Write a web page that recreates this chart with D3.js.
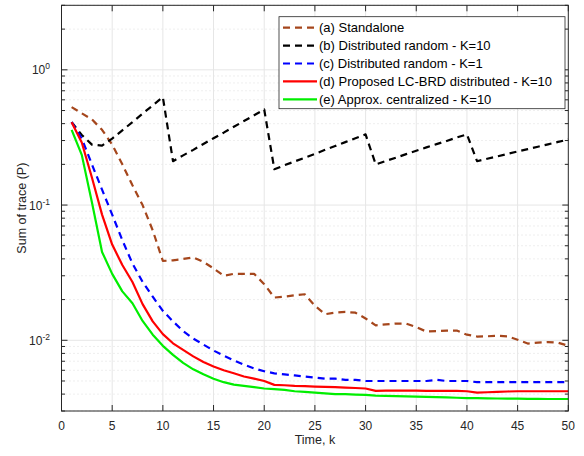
<!DOCTYPE html>
<html>
<head>
<meta charset="utf-8">
<script src="https://cdn.jsdelivr.net/npm/d3@7"></script>
<style>
  body { margin: 0; background: #fff; }
  svg { display: block; font-family: "Liberation Sans", Arial, sans-serif; }
</style>
</head>
<body>
<svg id="chart" width="584" height="456"></svg>
<script>
// time steps k = 1..50
var steps = d3.range(1, 51);

// (a) Standalone
var standalone = [0.53, 0.477, 0.43, 0.36, 0.28, 0.20, 0.14, 0.10, 0.065, 0.0386,
  0.039, 0.040, 0.041, 0.038, 0.034, 0.030, 0.031, 0.031, 0.031, 0.026,
  0.0207, 0.021, 0.0215, 0.0219, 0.018, 0.0156, 0.016, 0.0162, 0.016, 0.0145,
  0.0129, 0.0131, 0.0133, 0.0133, 0.0125, 0.0116, 0.0117, 0.0118, 0.0118, 0.011,
  0.01066, 0.0107, 0.0108, 0.0107, 0.0101, 0.00946, 0.0096, 0.0097, 0.0096, 0.0091];

// (b) Distributed random - K=10
var randomK10 = [0.41, 0.33, 0.28, 0.275, 0.31, 0.357, 0.41, 0.474, 0.546, 0.628,
  0.211, 0.233, 0.256, 0.283, 0.312, 0.343, 0.379, 0.418, 0.461, 0.509,
  0.184, 0.197, 0.210, 0.224, 0.239, 0.256, 0.273, 0.292, 0.312, 0.333,
  0.200, 0.212, 0.224, 0.238, 0.252, 0.267, 0.282, 0.298, 0.316, 0.333,
  0.211, 0.220, 0.229, 0.239, 0.249, 0.259, 0.270, 0.281, 0.293, 0.305];

// (c) Distributed random - K=1
var randomK1 = [0.41, 0.31, 0.20, 0.13, 0.085, 0.055, 0.037, 0.027, 0.021, 0.0165,
  0.0138, 0.0117, 0.0103, 0.0093, 0.0084, 0.0077, 0.0071, 0.0066, 0.0062, 0.0059,
  0.0057, 0.0056, 0.0055, 0.0054, 0.0053, 0.0052, 0.0052, 0.0051, 0.0051, 0.0050,
  0.0050, 0.0050, 0.0050, 0.0050, 0.0050, 0.0050, 0.0051, 0.0050, 0.0050, 0.0050,
  0.0049, 0.0049, 0.0049, 0.0049, 0.0049, 0.0049, 0.0049, 0.0049, 0.0049, 0.0049];

// (d) Proposed LC-BRD distributed - K=10
var proposed = [0.41, 0.29, 0.16, 0.085, 0.051, 0.036, 0.027, 0.0185, 0.0138, 0.0111,
  0.0095, 0.0085, 0.0076, 0.0069, 0.0064, 0.0060, 0.0057, 0.0054, 0.0052, 0.0050,
  0.00468, 0.00465, 0.0046, 0.00458, 0.00455, 0.00452, 0.0045, 0.00447, 0.00444, 0.0044,
  0.00423, 0.00424, 0.00424, 0.00424, 0.00424, 0.00423, 0.00423, 0.00422, 0.00422, 0.0042,
  0.0041, 0.00413, 0.00416, 0.00418, 0.0042, 0.0042, 0.0042, 0.0042, 0.0042, 0.0042];

// (e) Approx. centralized - K=10
var centralized = [0.36, 0.235, 0.105, 0.045, 0.031, 0.023, 0.0188, 0.0139, 0.011, 0.0091,
  0.0078, 0.0068, 0.0061, 0.0056, 0.0052, 0.0049, 0.0047, 0.0046, 0.0045, 0.0044,
  0.00436, 0.0043, 0.0042, 0.00415, 0.0041, 0.00405, 0.0040, 0.0040, 0.00397, 0.00395,
  0.0039, 0.00388, 0.00386, 0.00385, 0.00383, 0.00381, 0.0038, 0.00378, 0.00376, 0.00374,
  0.00373, 0.00372, 0.00371, 0.0037, 0.0037, 0.00369, 0.00369, 0.00368, 0.00368, 0.00368];

var seriesNames = ["(a) Standalone", "(b) Distributed random - K=10", "(c) Distributed random - K=1",
  "(d) Proposed LC-BRD distributed - K=10", "(e) Approx. centralized - K=10"];
var seriesColors = ["#a5461c", "#000000", "#0000ff", "#ff0000", "#00ee00"];
var seriesDashed = [true, true, true, false, false];
var seriesValues = [standalone, randomK10, randomK1, proposed, centralized];

var xTicks = d3.range(0, 51, 5);
var yMajor = [0.01, 0.1, 1];

var svg = d3.select("#chart");
var pLeft = 61.5, pRight = 568.3, pTop = 5.3, pBottom = 411;

var x = d3.scaleLinear().domain([0, 50]).range([pLeft, pRight]);
var y = d3.scaleLog().domain([0.003, 3]).range([pBottom, pTop]);

// minor log positions
var yMinor = [];
[0.001, 0.01, 0.1, 1].forEach(function(d) {
  for (var m = 2; m <= 9; m++) {
    var v = d * m;
    if (v >= 0.003 && v <= 3) yMinor.push(v);
  }
});

// grid
var grid = svg.append("g");
grid.selectAll(".ymin").data(yMinor).enter().append("line")
  .attr("x1", pLeft).attr("x2", pRight)
  .attr("y1", d => y(d)).attr("y2", d => y(d))
  .attr("stroke", "#c8c8c8").attr("stroke-width", 0.6)
  .attr("stroke-dasharray", "1,3");
grid.selectAll(".ymaj").data(yMajor).enter().append("line")
  .attr("x1", pLeft).attr("x2", pRight)
  .attr("y1", d => y(d)).attr("y2", d => y(d))
  .attr("stroke", "#e6e6e6").attr("stroke-width", 1);
grid.selectAll(".xg").data(xTicks.slice(1, -1)).enter().append("line")
  .attr("x1", d => x(d)).attr("x2", d => x(d))
  .attr("y1", pTop).attr("y2", pBottom)
  .attr("stroke", "#e6e6e6").attr("stroke-width", 1);

// lines
var line = d3.line()
  .x((d, i) => x(steps[i]))
  .y(d => y(d));

// draw order: a, b, c, d, e
seriesValues.forEach(function(vals, i) {
  svg.append("path")
    .datum(vals)
    .attr("d", line)
    .attr("fill", "none")
    .attr("stroke", seriesColors[i])
    .attr("stroke-width", 2.2)
    .attr("stroke-linejoin", "round")
    .attr("stroke-dasharray", seriesDashed[i] ? "7,5" : null);
});

// axes (box with inward ticks on all sides)
var axes = svg.append("g").attr("stroke", "#262626").attr("stroke-width", 1).attr("fill", "none");
axes.append("rect").attr("x", pLeft).attr("y", pTop)
  .attr("width", pRight - pLeft).attr("height", pBottom - pTop);

xTicks.forEach(function(t) {
  axes.append("line").attr("x1", x(t)).attr("x2", x(t)).attr("y1", pBottom).attr("y2", pBottom - 6);
  axes.append("line").attr("x1", x(t)).attr("x2", x(t)).attr("y1", pTop).attr("y2", pTop + 6);
});
yMajor.forEach(function(t) {
  axes.append("line").attr("x1", pLeft).attr("x2", pLeft + 6).attr("y1", y(t)).attr("y2", y(t));
  axes.append("line").attr("x1", pRight).attr("x2", pRight - 6).attr("y1", y(t)).attr("y2", y(t));
});
yMinor.forEach(function(t) {
  axes.append("line").attr("x1", pLeft).attr("x2", pLeft + 3.5).attr("y1", y(t)).attr("y2", y(t));
  axes.append("line").attr("x1", pRight).attr("x2", pRight - 3.5).attr("y1", y(t)).attr("y2", y(t));
});

// tick labels
svg.append("g").selectAll("text").data(xTicks).enter().append("text")
  .attr("x", d => x(d)).attr("y", 430)
  .attr("text-anchor", "middle")
  .attr("font-size", 12).attr("fill", "#262626")
  .text(d => d);

var yl = svg.append("g").selectAll("text").data(yMajor).enter().append("text")
  .attr("x", 50).attr("y", d => y(d) + 4.5)
  .attr("text-anchor", "end")
  .attr("font-size", 12).attr("fill", "#262626");
yl.append("tspan").text("10");
yl.append("tspan").attr("font-size", 8.5).attr("dy", -5).text(d => Math.round(Math.log10(d)));

// axis titles
svg.append("text").attr("x", (pLeft + pRight) / 2).attr("y", 444)
  .attr("text-anchor", "middle").attr("font-size", 12.5).attr("fill", "#262626")
  .text("Time, k");
svg.append("text")
  .attr("transform", "translate(26," + ((pTop + pBottom) / 2) + ") rotate(-90)")
  .attr("text-anchor", "middle").attr("font-size", 12.5).attr("fill", "#262626")
  .text("Sum of trace (P)");

// legend
var lg = svg.append("g").attr("transform", "translate(279,16.7)");
lg.append("rect").attr("width", 286).attr("height", 92)
  .attr("fill", "#fff").attr("stroke", "#262626").attr("stroke-width", 0.8);
seriesNames.forEach(function(name, i) {
  var ry = 11 + i * 17.9;
  lg.append("line").attr("x1", 4).attr("x2", 38).attr("y1", ry).attr("y2", ry)
    .attr("stroke", seriesColors[i]).attr("stroke-width", 2.2)
    .attr("stroke-dasharray", seriesDashed[i] ? "7,5" : null);
  lg.append("text").attr("x", 40).attr("y", ry + 4.5)
    .attr("font-size", 13).attr("fill", "#000").text(name);
});
</script>
</body>
</html>
